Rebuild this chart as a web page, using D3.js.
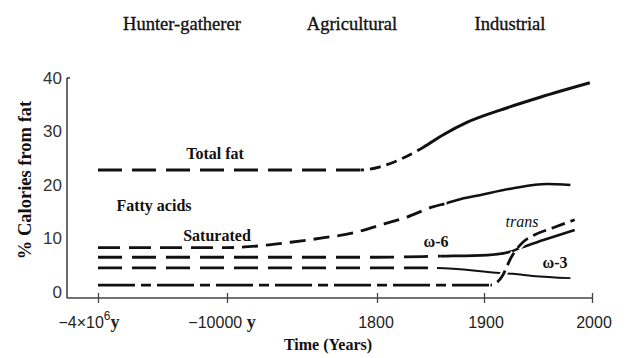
<!DOCTYPE html>
<html>
<head>
<meta charset="utf-8">
<script src="https://cdn.jsdelivr.net/npm/d3@7/dist/d3.min.js"></script>
<style>
  html, body { margin: 0; padding: 0; background: #fff; }
  svg { display: block; }
</style>
</head>
<body>
<svg id="chart" width="631" height="358"></svg>
<script>
// ---------- data ----------
const eraLabels = ["Hunter-gatherer", "Agricultural", "Industrial"];
const xTickYears = [-4000000, -10000, 1800, 1900, 2000];
const xTickLabels = ["−4×10^6y", "−10000 y", "1800", "1900", "2000"];
const yTicks = [0, 10, 20, 30, 40];

const totalFatYears  = [-4000000, -10000, 500, 1803, 1824, 1843, 1862, 1884, 1915, 1952, 1998];
const totalFatValues = [22.8, 22.8, 22.8, 23.4, 25.0, 27.0, 29.4, 31.7, 34.0, 36.4, 39.1];
const totalFatShortFrom = 500;
const totalFatSolidFrom = 1843;

const saturatedYears  = [-4000000, -10000, -7600, -5000, -2500, 200, 1803, 1828, 1852, 1865, 1875, 1896, 1927, 1958, 1980];
const saturatedValues = [8.3, 8.3, 8.6, 9.3, 10.1, 11.2, 12.5, 14.0, 15.9, 16.6, 17.2, 18.1, 19.4, 20.2, 20.0];
const saturatedSolidFrom = 1865;

const omega6Years  = [-4000000, 1800, 1859, 1903, 1924, 1933, 1955, 1984];
const omega6Values = [6.5, 6.5, 6.7, 6.9, 7.5, 8.2, 9.7, 11.6];
const omega6SolidFrom = 1859;

const omega3Years  = [-4000000, 1800, 1856, 1915, 1927, 1945, 1980];
const omega3Values = [4.5, 4.5, 4.5, 3.55, 3.4, 3.0, 2.6];
const omega3SolidFrom = 1856;

const transYears  = [-4000000, 1800, 1906, 1912, 1917, 1925, 1931, 1936, 1947, 1964, 1984];
const transValues = [1.3, 1.3, 1.3, 1.8, 3.0, 6.4, 8.2, 9.3, 10.7, 12.0, 13.5];
const transRiseFrom = 1906;

// ---------- layout ----------
const W = 631, H = 358;
const svg = d3.select("#chart");
const defs = svg.append("defs");
const x = d3.scaleLinear().domain(xTickYears).range([98, 227, 377, 484, 592]);
const y = d3.scaleLinear().domain([0, 40]).range([292, 78]);
const axisY = 298, axisX = 67;
const serif = "'Liberation Serif', 'Times New Roman', serif";
const sans = "'Liberation Sans', Arial, sans-serif";

const line = d3.line().x(d => x(d[0])).y(d => y(d[1])).curve(d3.curveMonotoneX);
const pts = (ys, vs) => ys.map((yr, i) => [yr, vs[i]]);

let clipId = 0;
// draw the whole curve, clipped to [lo, hi] in years, with a style
function styled(data, lo, hi, dash, w, halo) {
  const id = "clip" + (clipId++);
  const x0 = lo === -Infinity ? 0 : x(lo);
  const x1 = hi === Infinity ? W : x(hi);
  defs.append("clipPath").attr("id", id).append("rect")
    .attr("x", x0).attr("y", 0).attr("width", x1 - x0).attr("height", H);
  const g = svg.append("g").attr("clip-path", `url(#${id})`);
  if (halo) {
    g.append("path").attr("d", line(data)).attr("fill", "none").attr("stroke", "#fff")
      .attr("stroke-width", w + 4).attr("stroke-dasharray", dash);
  }
  g.append("path").attr("d", line(data)).attr("fill", "none").attr("stroke", "#111")
    .attr("stroke-width", w).attr("stroke-dasharray", dash);
}

// ---------- era labels ----------
svg.append("g").selectAll("text").data(eraLabels).join("text")
  .attr("x", (d, i) => [182, 352, 510][i]).attr("y", 30)
  .attr("text-anchor", "middle").attr("font-family", serif).attr("font-size", 18.5)
  .attr("fill", "#111").attr("stroke", "#111").attr("stroke-width", 0.35).text(d => d);

// ---------- axes ----------
const yAxis = d3.axisLeft(y).tickValues(yTicks).tickSize(0).tickPadding(5);
const gy = svg.append("g").attr("transform", `translate(${axisX},0)`).call(yAxis);
gy.select(".domain").remove();
gy.selectAll("text").attr("font-family", sans).attr("font-size", 17).attr("fill", "#333");
svg.append("line").attr("x1", axisX).attr("x2", axisX).attr("y1", y(40)).attr("y2", axisY)
  .attr("stroke", "#444").attr("stroke-width", 1.6);
svg.append("line").attr("x1", axisX).attr("x2", axisX + 3).attr("y1", y(40)).attr("y2", y(40))
  .attr("stroke", "#444").attr("stroke-width", 1.6);

const xAxis = d3.axisBottom(x).tickValues(xTickYears).tickSize(5).tickFormat("");
const gx = svg.append("g").attr("transform", `translate(0,${axisY})`).call(xAxis);
gx.select(".domain").remove();
gx.selectAll(".tick line").attr("y1", -5).attr("stroke", "#444").attr("stroke-width", 1.3);
svg.append("line").attr("x1", axisX).attr("x2", x(2000) + 1).attr("y1", axisY).attr("y2", axisY)
  .attr("stroke", "#444").attr("stroke-width", 1.6);

const labelX = [89, 222, 376, 486, 594];
xTickYears.forEach((yr, i) => {
  const t = svg.append("text").attr("x", labelX[i]).attr("y", 328)
    .attr("text-anchor", "middle").attr("font-family", sans).attr("font-size", 16).attr("fill", "#222");
  const lab = xTickLabels[i];
  if (lab.includes("^")) {
    const [base, rest] = lab.split("^");
    t.append("tspan").text(base);
    t.append("tspan").attr("dy", -8).attr("font-size", 12).text(rest[0]);
    t.append("tspan").attr("dy", 8).attr("font-family", serif).attr("font-weight", "bold").attr("font-size", 18).text(rest.slice(1));
  } else if (lab.endsWith(" y")) {
    t.append("tspan").text(lab.slice(0, -1));
    t.append("tspan").attr("font-family", serif).attr("font-weight", "bold").attr("font-size", 18).text("y");
  } else {
    t.text(lab);
  }
});

svg.append("text").attr("x", 328).attr("y", 350).attr("text-anchor", "middle")
  .attr("font-family", serif).attr("font-weight", "bold").attr("font-size", 16).attr("fill", "#111")
  .text("Time (Years)");
svg.append("text").attr("transform", "translate(31,180) rotate(-90)").attr("text-anchor", "middle")
  .attr("font-family", serif).attr("font-weight", "bold").attr("font-size", 18.5).attr("fill", "#111")
  .text("% Calories from fat");

// ---------- series ----------
const tf = pts(totalFatYears, totalFatValues);
styled(tf, -Infinity, totalFatShortFrom, "24,10", 2.8);
styled(tf, totalFatShortFrom, totalFatSolidFrom, "11,6", 2.8);
styled(tf, totalFatSolidFrom, Infinity, null, 3);

const sa = pts(saturatedYears, saturatedValues);
styled(sa, -Infinity, -10000, "22,9", 2.8);
styled(sa, -10000, saturatedSolidFrom, "16,8", 2.8);
styled(sa, saturatedSolidFrom, Infinity, null, 2.6);

const o3 = pts(omega3Years, omega3Values);
styled(o3, -Infinity, omega3SolidFrom, "24,10", 2.8);
styled(o3, omega3SolidFrom, Infinity, null, 1.9);

const o6 = pts(omega6Years, omega6Values);
styled(o6, -Infinity, omega6SolidFrom, "24,10", 2.8);
styled(o6, omega6SolidFrom, Infinity, null, 2.6);

const tr = pts(transYears, transValues);
styled(tr, -Infinity, transRiseFrom, "37,6,10,6", 2.8);
styled(tr, transRiseFrom, Infinity, "14,6", 2.8, true);

// ---------- in-chart labels ----------
const annot = [
  {t: "Total fat", x: 215, y: 159, w: "bold", s: "normal"},
  {t: "Fatty acids", x: 154, y: 211, w: "bold", s: "normal"},
  {t: "Saturated", x: 217, y: 241, w: "bold", s: "normal"},
  {t: "ω-6", x: 436, y: 247, w: "bold", s: "normal"},
  {t: "trans", x: 522, y: 227, w: "normal", s: "italic"},
  {t: "ω-3", x: 555, y: 268, w: "bold", s: "normal"}
];
svg.append("g").selectAll("text").data(annot).join("text")
  .attr("x", d => d.x).attr("y", d => d.y).attr("text-anchor", "middle")
  .attr("font-family", serif).attr("font-size", 16).attr("font-weight", d => d.w)
  .attr("font-style", d => d.s).attr("fill", "#111").text(d => d.t);
</script>
</body>
</html>
